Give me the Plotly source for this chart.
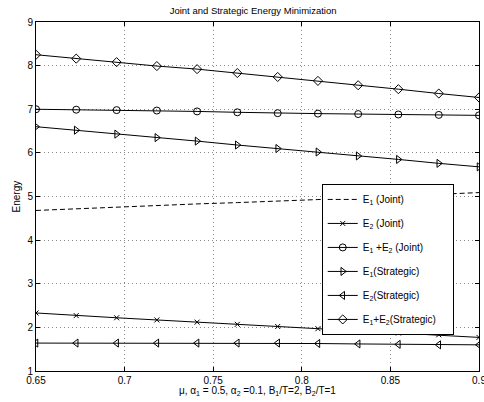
import plotly.graph_objects as go

mu = [0.65, 0.6727, 0.6955, 0.7182, 0.7409, 0.7636, 0.7864, 0.8091, 0.8318, 0.8545, 0.8773, 0.9]
e1_joint = [4.68, 4.72, 4.76, 4.80, 4.83, 4.86, 4.89, 4.93, 4.97, 5.01, 5.04, 5.09]
e2_joint = [2.33, 2.27, 2.22, 2.17, 2.12, 2.07, 2.02, 1.97, 1.92, 1.87, 1.83, 1.77]
sum_joint = [7.00, 6.99, 6.98, 6.97, 6.95, 6.93, 6.91, 6.90, 6.89, 6.88, 6.87, 6.86]
e1_strat = [6.60, 6.52, 6.43, 6.35, 6.27, 6.18, 6.10, 6.02, 5.93, 5.85, 5.76, 5.68]
e2_strat = [1.64, 1.64, 1.64, 1.64, 1.64, 1.64, 1.64, 1.63, 1.62, 1.61, 1.60, 1.60]
sum_strat = [8.25, 8.16, 8.08, 7.99, 7.92, 7.83, 7.74, 7.65, 7.55, 7.46, 7.36, 7.27]

x_ticks = [0.65, 0.7, 0.75, 0.8, 0.85, 0.9]
x_tick_labels = ["0.65", "0.7", "0.75", "0.8", "0.85", "0.9"]
y_ticks = [1, 2, 3, 4, 5, 6, 7, 8, 9]

series = [
    ("E<sub>1</sub> (Joint)", e1_joint, None),
    ("E<sub>2</sub> (Joint)", e2_joint, "x-thin-open"),
    ("E<sub>1</sub> +E<sub>2</sub> (Joint)", sum_joint, "circle-open"),
    ("E<sub>1</sub>(Strategic)", e1_strat, "triangle-right-open"),
    ("E<sub>2</sub>(Strategic)", e2_strat, "triangle-left-open"),
    ("E<sub>1</sub>+E<sub>2</sub>(Strategic)\u00a0\u00a0\u00a0\u00a0", sum_strat, "diamond-open"),
]

fig = go.Figure()
for i, (name, ys, sym) in enumerate(series):
    if sym is None:
        fig.add_trace(go.Scatter(x=mu, y=ys, mode="lines", name=name, legendgroup=str(i),
                                 line=dict(color="black", width=1, dash="5px,3px")))
    else:
        fig.add_trace(go.Scatter(x=mu, y=ys, mode="lines+markers", name=name, legendgroup=str(i),
                                 line=dict(color="black", width=1),
                                 marker=dict(symbol=sym, size=7 if sym != "x-thin-open" else 5,
                                             color="black", line=dict(color="black", width=1))))

axis_common = dict(showline=True, linecolor="black", linewidth=1, mirror="ticks",
                   ticks="inside", ticklen=4, tickcolor="black",
                   showgrid=True, gridcolor="#8a8a8a", griddash="1px,3px", gridwidth=1,
                   zeroline=False, tickfont=dict(size=10, color="black"),
                   ticklabeloverflow="allow", automargin=False)

fig.update_layout(
    width=484, height=402,
    margin=dict(l=36, r=5, t=22, b=31),
    paper_bgcolor="white", plot_bgcolor="white",
    font=dict(family="Liberation Sans, Arial, sans-serif", size=10, color="black"),
    title=dict(text="Joint and Strategic Energy Minimization", x=0.523, xanchor="center",
               yref="container", y=0.973, yanchor="middle", font=dict(size=9.5)),
    xaxis=dict(range=[0.65, 0.9], tickvals=x_ticks, ticktext=x_tick_labels, **axis_common),
    yaxis=dict(range=[1, 9], tickvals=y_ticks, **axis_common),
    legend=dict(x=0.645, y=0.536, xanchor="left", yanchor="top",
                bgcolor="white", bordercolor="black", borderwidth=1,
                tracegroupgap=5, itemwidth=30, font=dict(size=10)),
    showlegend=True,
    annotations=[
        dict(text="μ, α<sub>1</sub> = 0.5, α<sub>2</sub> =0.1, B<sub>1</sub>/T=2, B<sub>2</sub>/T=1",
             xref="paper", yref="paper", x=0.5, y=-0.033, xanchor="center", yanchor="top",
             showarrow=False, font=dict(size=10)),
        dict(text="Energy", xref="paper", yref="paper", x=-0.043, y=0.5, textangle=-90,
             xanchor="center", yanchor="middle", showarrow=False, font=dict(size=10)),
    ],
)

fig.write_html("out.html", config={"displayModeBar": False},
               post_script="document.body.style.margin='0';")
